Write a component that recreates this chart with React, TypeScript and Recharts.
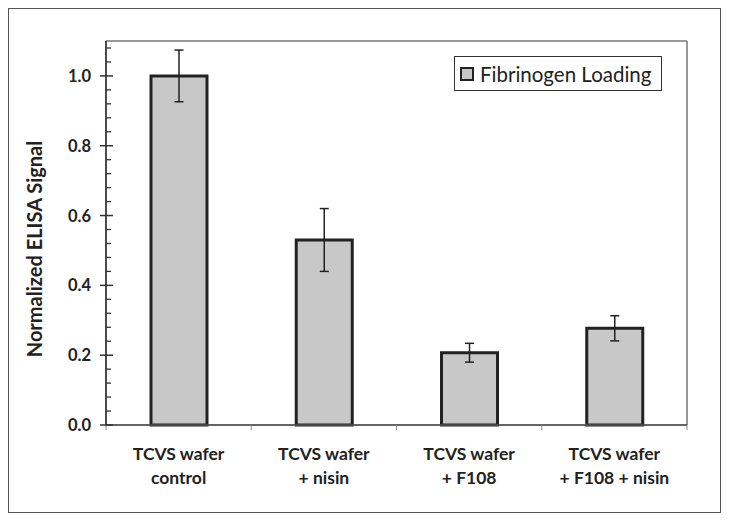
import React from 'react';
import { BarChart, Bar, XAxis, YAxis, ErrorBar, ReferenceArea } from 'recharts';

const categories = [
  'TCVS wafer\ncontrol',
  'TCVS wafer\n+ nisin',
  'TCVS wafer\n+ F108',
  'TCVS wafer\n+ F108 + nisin',
];
const fibrinogenLoading = [1.0, 0.53, 0.207, 0.277];
const fibrinogenError = [0.074, 0.09, 0.027, 0.036];
const yMajorTicks = [0, 0.2, 0.4, 0.6, 0.8, 1.0];
const yTickLabels = ['0.0', '0.2', '0.4', '0.6', '0.8', '1.0'];
const yMinorTicks = [
  0.04, 0.08, 0.12, 0.16, 0.24, 0.28, 0.32, 0.36, 0.44, 0.48, 0.52, 0.56,
  0.64, 0.68, 0.72, 0.76, 0.84, 0.88, 0.92, 0.96, 1.04, 1.08,
];
const yDomainMax = 1.1;
const seriesName = 'Fibrinogen Loading';
const yAxisTitle = 'Normalized ELISA Signal';

const data = categories.map((c, i) => ({
  category: c,
  value: fibrinogenLoading[i],
  err: fibrinogenError[i],
}));
const allYTicks = [...yMajorTicks, ...yMinorTicks].sort((a, b) => a - b);

const CHART_W = 713;
const CHART_H = 505;
const MARGIN = { top: 33, right: 34, left: 0, bottom: 0 };
const Y_AXIS_W = 98;
const X_AXIS_H = 88;
const PLOT_W = CHART_W - MARGIN.left - MARGIN.right - Y_AXIS_W;
const BAND = PLOT_W / categories.length;
const FONT = 'Lato, "Open Sans", sans-serif';
const TEXT = '#222';

const YTick = (props: any) => {
  const { x, y, payload } = props;
  const idx = yMajorTicks.findIndex((t) => Math.abs(t - payload.value) < 1e-9);
  if (idx >= 0) {
    return (
      <g>
        <line x1={x - 6} x2={x + 7} y1={y} y2={y} stroke="#333" strokeWidth={1.5} />
        <text
          x={x - 15}
          y={y}
          dy={6}
          textAnchor="end"
          fontFamily={FONT}
          fontWeight={700}
          fontSize={16.5}
          fill={TEXT}
        >
          {yTickLabels[idx]}
        </text>
      </g>
    );
  }
  return <line x1={x} x2={x + 5} y1={y} y2={y} stroke="#333" strokeWidth={1.3} />;
};

const XTick = (props: any) => {
  const { x, y, payload } = props;
  const index = props.index ?? payload.index ?? 0;
  const lines = String(payload.value).split('\n');
  const half = BAND / 2;
  return (
    <g>
      <line x1={x - half} x2={x - half} y1={y} y2={y + 5} stroke="#888" strokeWidth={1} />
      {index === categories.length - 1 && (
        <line x1={x + half} x2={x + half} y1={y} y2={y + 5} stroke="#888" strokeWidth={1} />
      )}
      <text
        x={x}
        y={y + 35}
        textAnchor="middle"
        fontFamily={FONT}
        fontWeight={700}
        fontSize={17.5}
        fill={TEXT}
      >
        {lines.map((l, i) => (
          <tspan key={i} x={x} dy={i === 0 ? 0 : 24}>
            {l}
          </tspan>
        ))}
      </text>
    </g>
  );
};

const YTitle = (props: any) => {
  const vb = props.viewBox || { x: 0, y: MARGIN.top, width: Y_AXIS_W, height: 384 };
  const cx = vb.x + 34;
  const cy = vb.y + vb.height / 2 + 16;
  return (
    <text
      transform={`translate(${cx},${cy}) rotate(-90)`}
      textAnchor="middle"
      fontFamily={FONT}
      fontWeight={700}
      fontSize={20}
      fill={TEXT}
    >
      {yAxisTitle}
    </text>
  );
};

export default function App() {
  return (
    <div style={{ position: 'relative', width: CHART_W, height: CHART_H, background: '#fff' }}>
      <BarChart width={CHART_W} height={CHART_H} data={data} margin={MARGIN} barCategoryGap={0}>
        <ReferenceArea y1={0} y2={yDomainMax} fill="none" stroke="#333" strokeWidth={1} />
        <XAxis
          dataKey="category"
          height={X_AXIS_H}
          interval={0}
          tickSize={0}
          tickMargin={0}
          tickLine={false}
          axisLine={{ stroke: '#555', strokeWidth: 1.5 }}
          tick={<XTick />}
        />
        <YAxis
          type="number"
          domain={[0, yDomainMax]}
          ticks={allYTicks}
          interval={0}
          width={Y_AXIS_W}
          tickSize={0}
          tickMargin={0}
          tickLine={false}
          axisLine={{ stroke: '#333', strokeWidth: 1.5 }}
          tick={<YTick />}
          label={<YTitle />}
        />
        <Bar
          dataKey="value"
          name={seriesName}
          fill="#c8c8c8"
          stroke="#222"
          strokeWidth={3}
          barSize={56}
          isAnimationActive={false}
        >
          <ErrorBar dataKey="err" width={4.5} stroke="#222" strokeWidth={1.5} direction="y" />
        </Bar>
      </BarChart>
      <div
        style={{
          position: 'absolute',
          left: 446,
          top: 48,
          width: 208,
          height: 35,
          boxSizing: 'border-box',
          border: '1.5px solid #333',
          display: 'flex',
          alignItems: 'center',
          paddingLeft: 5,
          background: '#fff',
        }}
      >
        <div
          style={{
            width: 14,
            height: 14,
            flexShrink: 0,
            boxSizing: 'border-box',
            border: '2.5px solid #222',
            background: '#c8c8c8',
          }}
        />
        <span
          style={{
            marginLeft: 6,
            fontFamily: FONT,
            fontSize: 20.5,
            color: TEXT,
            lineHeight: '20px',
            whiteSpace: 'nowrap',
          }}
        >
          {seriesName}
        </span>
      </div>
      <div
        style={{
          position: 'absolute',
          left: 0,
          top: 0,
          width: CHART_W,
          height: CHART_H,
          boxSizing: 'border-box',
          border: '1.5px solid #555',
          pointerEvents: 'none',
        }}
      />
    </div>
  );
}
